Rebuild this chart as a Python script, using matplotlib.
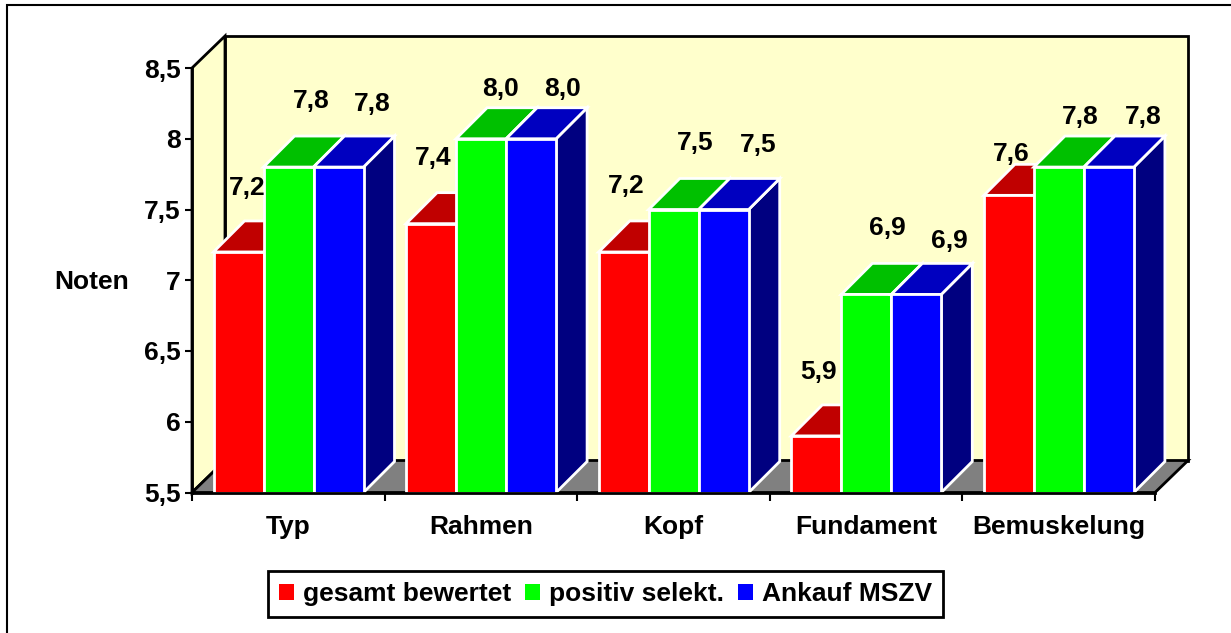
# Noten chart: fake 3D bars drawn by hand, one axes on the front plane
import matplotlib
matplotlib.use('Agg')
import matplotlib.pyplot as plt
from matplotlib.lines import Line2D
from matplotlib.patches import Polygon, Rectangle

plt.rcParams['font.family'] = ['Liberation Sans', 'DejaVu Sans']
plt.rcParams['font.weight'] = 'bold'

# Data
categories = ['Typ', 'Rahmen', 'Kopf', 'Fundament', 'Bemuskelung']
series_names = ['gesamt bewertet', 'positiv selekt.', 'Ankauf MSZV']
gesamt = [7.2, 7.4, 7.2, 5.9, 7.6]
positiv = [7.8, 8.0, 7.5, 6.9, 7.8]
ankauf = [7.8, 8.0, 7.5, 6.9, 7.8]
y_ticks = [5.5, 6, 6.5, 7, 7.5, 8, 8.5]
y_labels = ['5,5', '6', '6,5', '7', '7,5', '8', '8,5']

# Colours: front, top, side
front_colors = ['#ff0000', '#00ff00', '#0000ff']
top_colors = ['#c00000', '#00c000', '#0000c0']
side_colors = ['#800000', '#008000', '#000080']
wall = '#ffffcc'
floor = '#808080'

# Label shift from bar front-top centre, in pixels (they were moved by hand in the original)
label_dx = [[9, 2, 2, 2, 2], [23, 19, 21, 21, 21], [34, 31, 34, 33, 34]]
label_dy = [[64, 66, 66, 64, 41], [66, 50, 66, 66, 50], [63, 50, 64, 53, 50]]

FS = 19
W, H = 1231, 633
fig = plt.figure(figsize=(W / 100, H / 100), dpi=100)
fig.patch.set_facecolor('white')

# Outer frame: only top and left lines are visible in the picture
fx0, fx1, fy0, fy1 = 7 / W, 1, 1 - 5 / H, 0
fig.add_artist(Line2D([fx0, fx0, fx1], [fy1, fy0, fy0], transform=fig.transFigure,
                      color='black', linewidth=1.5, solid_joinstyle='miter'))

# Axes sits on the front plane of the 3D box
left, right, top, bottom = 192, 1155, 68, 492.5
ax = fig.add_axes([left / W, 1 - bottom / H, (right - left) / W, (bottom - top) / H])
ax.set_xlim(0, len(categories))
ax.set_ylim(5.5, 8.5)
ax.patch.set_visible(False)

# pixel -> data scales
px_x = len(categories) / (right - left)
px_y = 3.0 / (bottom - top)
box_dx, box_dy = 33 * px_x, 32 * px_y
bar_dx, bar_dy = 31 * px_x, 31 * px_y
bar_w = 50 * px_x
bar_start = 21.5 * px_x
n_cat = len(categories)

# Back wall, left wall, floor
ax.add_patch(Polygon([(box_dx, 5.5 + box_dy), (n_cat + box_dx, 5.5 + box_dy),
                      (n_cat + box_dx, 8.5 + box_dy), (box_dx, 8.5 + box_dy)],
                     facecolor=wall, edgecolor='black', linewidth=2, clip_on=False, zorder=1))
ax.add_patch(Polygon([(0, 5.5), (box_dx, 5.5 + box_dy), (box_dx, 8.5 + box_dy), (0, 8.5)],
                     facecolor=wall, edgecolor='black', linewidth=2, clip_on=False, zorder=1))
ax.add_patch(Polygon([(0, 5.5), (n_cat, 5.5), (n_cat + box_dx, 5.5 + box_dy), (box_dx, 5.5 + box_dy)],
                     facecolor=floor, edgecolor='black', linewidth=2, clip_on=False, zorder=1))

# Bars, each with front, top and side faces
all_series = [gesamt, positiv, ankauf]
for c in range(n_cat):
    for s, values in enumerate(all_series):
        v = values[c]
        x0 = c + bar_start + s * bar_w
        x1 = x0 + bar_w
        z = 3 + c + s * 0.1
        style = dict(edgecolor='white', linewidth=2, clip_on=False, zorder=z, joinstyle='miter')
        ax.add_patch(Polygon([(x1, 5.5), (x1 + bar_dx, 5.5 + bar_dy), (x1 + bar_dx, v + bar_dy), (x1, v)],
                             facecolor=side_colors[s], **style))
        ax.add_patch(Polygon([(x0, v), (x1, v), (x1 + bar_dx, v + bar_dy), (x0 + bar_dx, v + bar_dy)],
                             facecolor=top_colors[s], **style))
        ax.add_patch(Rectangle((x0, 5.5), bar_w, v - 5.5, facecolor=front_colors[s], **style))
        label = f'{v:.1f}'.replace('.', ',')
        ax.annotate(label, xy=((x0 + x1) / 2, v), xytext=(label_dx[s][c] * 0.72, label_dy[s][c] * 0.72),
                    textcoords='offset points', ha='center', va='center',
                    fontsize=FS, fontweight='bold', color='black', zorder=20, annotation_clip=False)

# Axis lines and ticks
for name in ['top', 'right']:
    ax.spines[name].set_visible(False)
for name in ['left', 'bottom']:
    ax.spines[name].set_linewidth(2)
    ax.spines[name].set_zorder(15)
ax.set_yticks(y_ticks)
ax.set_yticklabels(y_labels, fontsize=FS, fontweight='bold')
ax.set_xticks(range(n_cat + 1))
ax.set_xticklabels([])
ax.set_xticks([i + 0.5 for i in range(n_cat)], labels=categories, minor=True, fontsize=FS, fontweight='bold')
ax.tick_params(axis='x', which='major', length=6, width=1.5, direction='out')
ax.tick_params(axis='x', which='minor', length=0, pad=16)
ax.tick_params(axis='y', length=5, width=1.5, direction='out', pad=3)

fig.text(92 / W, 1 - 282 / H, 'Noten', fontsize=FS, fontweight='bold', ha='center', va='center')

# Legend
handles = [Rectangle((0, 0), 1, 1, facecolor=c, edgecolor='none') for c in front_colors]
leg = fig.legend(handles, series_names, ncol=3, loc='center', bbox_to_anchor=(605.5 / W, 1 - 594 / H),
                 fontsize=FS, frameon=True, fancybox=False, framealpha=1, edgecolor='black',
                 handlelength=0.57, handleheight=0.57, handletextpad=0.36, columnspacing=0.5,
                 borderpad=0.4, borderaxespad=0)
leg.get_frame().set_linewidth(2)

fig.savefig('out.png', dpi=100)
